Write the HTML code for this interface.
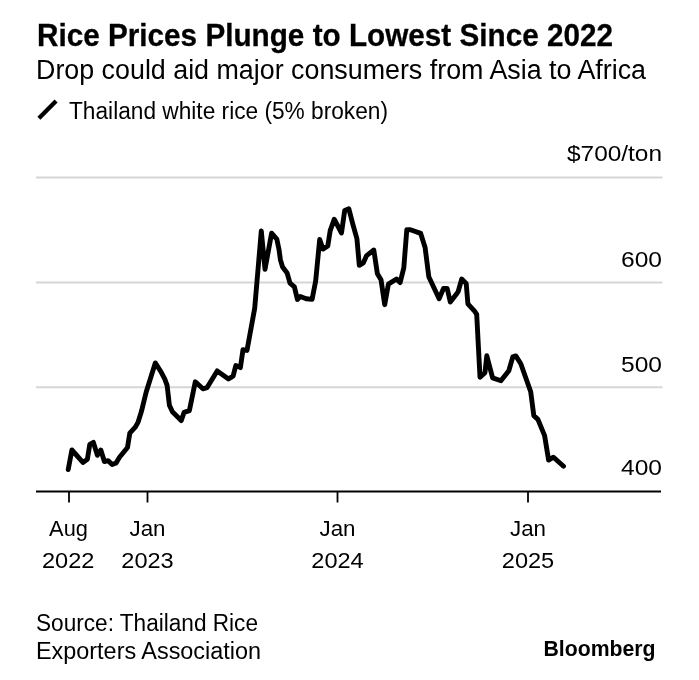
<!DOCTYPE html>
<html><head><meta charset="utf-8"><style>
html,body{margin:0;padding:0;background:#fff;width:699px;height:680px;overflow:hidden}
svg{display:block;filter:grayscale(1)}
text{font-family:"Liberation Sans", sans-serif;fill:#000}
</style></head><body>
<svg width="699" height="680" viewBox="0 0 699 680">
<rect width="699" height="680" fill="#fff"/>
<text x="37" y="46.4" font-size="32" font-weight="bold" stroke="#000" stroke-width="0.3" textLength="576" lengthAdjust="spacingAndGlyphs">Rice Prices Plunge to Lowest Since 2022</text>
<text x="36" y="79.2" font-size="27" textLength="610" lengthAdjust="spacingAndGlyphs">Drop could aid major consumers from Asia to Africa</text>
<line x1="38.9" y1="118.3" x2="56.1" y2="100.9" stroke="#000" stroke-width="4.3" stroke-linecap="butt"/>
<text x="69" y="118.6" font-size="23.5" textLength="319" lengthAdjust="spacingAndGlyphs">Thailand white rice (5% broken)</text>
<line x1="36" y1="177.6" x2="662.5" y2="177.6" stroke="#d6d6d6" stroke-width="2"/>
<line x1="36" y1="282.6" x2="662.5" y2="282.6" stroke="#d6d6d6" stroke-width="2"/>
<line x1="36" y1="387.3" x2="662.5" y2="387.3" stroke="#d6d6d6" stroke-width="2"/>
<text x="662" y="160.6" font-size="22" text-anchor="end" textLength="95" lengthAdjust="spacingAndGlyphs">$700/ton</text>
<text x="662" y="267.0" font-size="22" text-anchor="end" textLength="41" lengthAdjust="spacingAndGlyphs">600</text>
<text x="662" y="372.0" font-size="22" text-anchor="end" textLength="41" lengthAdjust="spacingAndGlyphs">500</text>
<text x="662" y="475.4" font-size="22" text-anchor="end" textLength="41" lengthAdjust="spacingAndGlyphs">400</text>
<polyline points="68.2,469.6 71.9,450.0 82.9,462.4 87.4,459.2 89.8,444.4 93.4,442.4 97.4,455.3 100.8,450.0 104.4,461.6 108.0,460.6 112.1,464.6 116.1,462.9 119.5,457.2 127.5,447.5 129.8,433.2 135.5,426.9 138.2,421.8 141.4,411.6 146.2,392 155.3,362.9 160.6,371.2 164.7,378.8 167.1,385.3 169.4,405.3 172.4,411.8 181.2,420.6 184.1,412.4 189.4,410.6 195.3,381.8 202.9,388.8 207.1,387.6 217.2,370.9 228.5,378.9 233.1,376.2 235.8,365.6 240.4,367.6 243.0,349.7 247.0,350.4 254.7,308.2 261.3,231.0 265,269.3 271.6,233.2 276.8,239.1 279,249.4 280.4,259.7 282.6,267.1 287.1,272.9 290,283.2 294.4,286.9 297.4,299.4 300.3,296.5 306.2,298.7 312.1,299.4 315.7,280.7 319.7,239.4 322.9,249.1 327.8,245.9 330.2,230.6 334.2,219.2 341.5,233 344.7,210.4 348.8,208.7 352.8,224.1 356.9,238.6 359.3,265.3 363.3,262.9 366.6,255.6 373.8,250 377.4,273.8 381,279.7 384.7,304.7 388.4,284.1 396.5,279 400.1,282.6 403.8,267.9 406.8,229.7 410.4,229.7 420.7,233.4 425.1,247.4 428.8,276.8 439.1,298.8 443.5,288.5 447.2,288.5 450.3,302 456.5,294.1 458.2,291.5 461.7,279.1 466.2,283.5 467.9,303.8 475,311.7 476.7,314.4 480.0,377.2 485.0,372.6 486.8,355.8 492.6,377.9 500.9,380.7 508.8,370.8 512.8,356.9 515.8,355.9 520.8,363.8 530.7,391.7 533.8,415.6 537.9,419.4 544.6,435.6 548.6,460.0 553.5,457.2 563.5,466.2" fill="none" stroke="#000" stroke-width="4.9" stroke-linejoin="round" stroke-linecap="round"/>
<line x1="36" y1="491.5" x2="661" y2="491.5" stroke="#000" stroke-width="1.8"/>
<line x1="69" y1="491" x2="69" y2="502.5" stroke="#000" stroke-width="1.8"/>
<line x1="147.5" y1="491" x2="147.5" y2="502.5" stroke="#000" stroke-width="1.8"/>
<line x1="337.5" y1="491" x2="337.5" y2="502.5" stroke="#000" stroke-width="1.8"/>
<line x1="528" y1="491" x2="528" y2="502.5" stroke="#000" stroke-width="1.8"/>
<g font-size="21.5" text-anchor="middle" lengthAdjust="spacingAndGlyphs">
<text x="68.5" y="536" textLength="38.8" lengthAdjust="spacingAndGlyphs">Aug</text>
<text x="68.2" y="568" textLength="52.4" lengthAdjust="spacingAndGlyphs">2022</text>
<text x="147.5" y="536" textLength="36" lengthAdjust="spacingAndGlyphs">Jan</text>
<text x="147.5" y="568" textLength="52.4" lengthAdjust="spacingAndGlyphs">2023</text>
<text x="337.5" y="536" textLength="36" lengthAdjust="spacingAndGlyphs">Jan</text>
<text x="337.5" y="568" textLength="52.4" lengthAdjust="spacingAndGlyphs">2024</text>
<text x="528" y="536" textLength="36" lengthAdjust="spacingAndGlyphs">Jan</text>
<text x="528" y="568" textLength="52.4" lengthAdjust="spacingAndGlyphs">2025</text>
</g>
<text x="36" y="631.1" font-size="23.5" textLength="222" lengthAdjust="spacingAndGlyphs">Source: Thailand Rice</text>
<text x="36" y="658.5" font-size="23.5" textLength="225" lengthAdjust="spacingAndGlyphs">Exporters Association</text>
<text x="543.5" y="656" font-size="22.5" font-weight="bold" textLength="112" lengthAdjust="spacingAndGlyphs">Bloomberg</text>
</svg>
</body></html>
